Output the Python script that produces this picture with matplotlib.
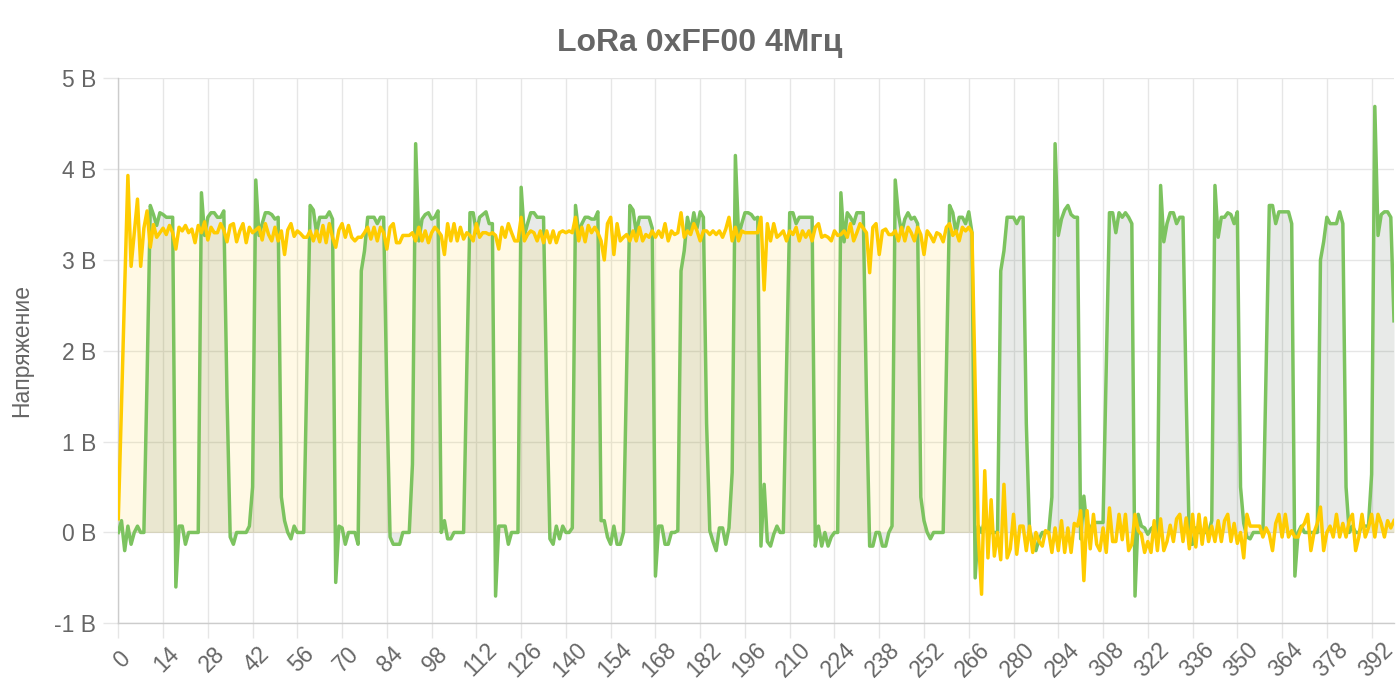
import matplotlib
matplotlib.use("Agg")
import matplotlib.pyplot as plt
from matplotlib.transforms import ScaledTranslation
import numpy as np

plt.rcParams['font.family'] = ['Liberation Sans', 'DejaVu Sans']

title = "LoRa 0xFF00 4Мгц"
y_label = "Напряжение"
y_ticks = [-1, 0, 1, 2, 3, 4, 5]
x_tick_step = 14

# зелёный канал (данные)
green = [
    0.0, 0.13, -0.2, 0.07, -0.13, 0.0, 0.07, 0.0, 0.0, 1.7,
    3.6, 3.5, 3.38, 3.52, 3.5, 3.47, 3.47, 3.47, -0.6, 0.07,
    0.07, -0.13, 0.0, 0.0, 0.0, 0.0, 3.74, 3.27, 3.47, 3.52,
    3.52, 3.47, 3.47, 3.54, 1.5, -0.05, -0.13, 0.0, 0.0, 0.0,
    0.0, 0.07, 0.5, 3.88, 3.27, 3.4, 3.52, 3.52, 3.5, 3.45,
    3.47, 0.39, 0.13, 0.0, -0.07, 0.07, 0.0, 0.0, 0.0, 1.8,
    3.6, 3.55, 3.3, 3.47, 3.47, 3.47, 3.53, 3.45, -0.55, 0.07,
    0.05, -0.13, 0.0, 0.0, 0.0, -0.13, 2.88, 3.1, 3.47, 3.47,
    3.47, 3.4, 3.47, 3.47, 1.5, -0.05, -0.13, -0.13, -0.13, 0.0,
    0.0, 0.0, 0.75, 4.28, 3.21, 3.45, 3.5, 3.52, 3.45, 3.47,
    3.54, 0.0, 0.13, -0.07, -0.07, 0.0, 0.0, 0.0, 0.0, 1.8,
    3.52, 3.52, 3.3, 3.47, 3.5, 3.53, 3.4, 3.4, -0.7, 0.07,
    0.07, 0.07, -0.13, 0.0, 0.0, 0.0, 3.8, 3.27, 3.4, 3.52,
    3.52, 3.47, 3.47, 3.47, 1.5, -0.07, -0.13, 0.07, -0.07, 0.07,
    0.0, 0.0, 0.05, 3.6, 3.3, 3.4, 3.47, 3.47, 3.45, 3.45,
    3.53, 0.13, 0.13, -0.05, -0.13, 0.07, -0.13, -0.13, 0.0, 1.8,
    3.6, 3.55, 3.3, 3.47, 3.47, 3.47, 3.47, 3.35, -0.48, 0.07,
    0.07, -0.13, -0.13, 0.0, 0.0, 0.02, 2.88, 3.1, 3.47, 3.3,
    3.52, 3.35, 3.53, 3.47, 1.2, 0.02, -0.1, -0.2, 0.05, 0.05,
    -0.13, 0.05, 0.66, 4.15, 3.27, 3.4, 3.52, 3.52, 3.5, 3.45,
    3.47, -0.15, 0.53, -0.1, -0.15, -0.02, 0.07, 0.0, 0.0, 1.8,
    3.52, 3.52, 3.4, 3.47, 3.47, 3.47, 3.47, 3.47, -0.15, 0.07,
    -0.15, 0.0, -0.15, -0.05, 0.0, 0.0, 3.74, 3.2, 3.52, 3.47,
    3.4, 3.52, 3.52, 3.52, 1.5, -0.15, -0.15, 0.0, 0.0, -0.15,
    -0.15, 0.0, 0.07, 3.88, 3.5, 3.3, 3.45, 3.52, 3.45, 3.47,
    3.4, 0.39, 0.13, 0.0, -0.07, 0.0, 0.0, 0.0, 0.0, 1.8,
    3.6, 3.52, 3.3, 3.47, 3.47, 3.4, 3.53, 3.3, -0.5, 0.07,
    0.0, 0.13, 0.0, 0.0, 0.0, 0.0, 2.88, 3.1, 3.47, 3.47,
    3.47, 3.4, 3.47, 3.47, 1.2, 0.02, -0.1, -0.2, -0.07, 0.0,
    0.0, 0.0, 0.39, 4.28, 3.27, 3.45, 3.55, 3.6, 3.5, 3.47,
    3.47, -0.07, 0.4, 0.04, 0.04, 0.11, 0.11, 0.11, 0.11, 1.8,
    3.52, 3.52, 3.3, 3.52, 3.47, 3.52, 3.47, 3.4, -0.7, 0.2,
    0.07, 0.05, -0.02, 0.04, 0.07, 0.0, 3.82, 3.2, 3.4, 3.52,
    3.52, 3.4, 3.47, 3.47, 1.5, -0.13, -0.13, 0.05, 0.0, 0.0,
    0.0, 0.0, 0.13, 3.82, 3.25, 3.47, 3.47, 3.52, 3.5, 3.4,
    3.53, 0.5, 0.1, -0.05, -0.07, 0.0, 0.0, 0.0, 0.0, 1.8,
    3.6, 3.6, 3.4, 3.53, 3.53, 3.53, 3.53, 3.4, -0.48, 0.0,
    0.07, 0.0, 0.0, 0.0, 0.0, 0.0, 3.0, 3.2, 3.47, 3.4,
    3.4, 3.4, 3.53, 3.4, 0.5, 0.0, 0.07, 0.0, 0.0, 0.07,
    0.07, 0.07, 0.64, 4.69, 3.27, 3.5, 3.53, 3.53, 3.47, 2.33,
]

# жёлтый канал (тактовый)
yellow = [
    0.15, 1.4, 2.7, 3.93, 2.93, 3.3, 3.67, 2.93, 3.35, 3.54,
    3.14, 3.39, 3.25, 3.3, 3.35, 3.28, 3.38, 3.3, 3.12, 3.36,
    3.32, 3.38, 3.3, 3.34, 3.19, 3.38, 3.3, 3.42, 3.22, 3.36,
    3.3, 3.3, 3.4, 3.33, 3.2, 3.38, 3.4, 3.2, 3.32, 3.4,
    3.19, 3.36, 3.3, 3.33, 3.36, 3.22, 3.4, 3.28, 3.21, 3.36,
    3.21, 3.32, 3.06, 3.33, 3.4, 3.26, 3.32, 3.29, 3.25, 3.25,
    3.32, 3.21, 3.32, 3.2, 3.38, 3.19, 3.4, 3.25, 3.14, 3.33,
    3.4, 3.25, 3.38, 3.25, 3.21, 3.25, 3.25, 3.3, 3.36, 3.23,
    3.36, 3.21, 3.36, 3.3, 3.12, 3.36, 3.4, 3.19, 3.19, 3.27,
    3.27, 3.27, 3.3, 3.21, 3.36, 3.21, 3.32, 3.19, 3.3, 3.36,
    3.32, 3.27, 3.06, 3.4, 3.21, 3.4, 3.21, 3.36, 3.23, 3.3,
    3.27, 3.21, 3.4, 3.25, 3.3, 3.3, 3.28, 3.3, 3.27, 3.12,
    3.36, 3.25, 3.4, 3.3, 3.21, 3.21, 3.47, 3.21, 3.28, 3.32,
    3.3, 3.21, 3.32, 3.19, 3.32, 3.19, 3.32, 3.19, 3.3, 3.32,
    3.3, 3.32, 3.3, 3.47, 3.21, 3.36, 3.2, 3.38, 3.3, 3.36,
    3.3, 3.21, 3.0, 3.4, 3.47, 3.06, 3.4, 3.21, 3.25, 3.28,
    3.21, 3.32, 3.21, 3.36, 3.21, 3.28, 3.25, 3.32, 3.25, 3.32,
    3.25, 3.4, 3.21, 3.32, 3.28, 3.3, 3.52, 3.25, 3.32, 3.28,
    3.4, 3.32, 3.21, 3.32, 3.32, 3.28, 3.32, 3.28, 3.32, 3.25,
    3.34, 3.47, 3.21, 3.36, 3.21, 3.32, 3.3, 3.3, 3.3, 3.3,
    3.3, 3.47, 2.67, 3.4, 3.21, 3.4, 3.25, 3.28, 3.32, 3.21,
    3.32, 3.28, 3.36, 3.21, 3.32, 3.25, 3.32, 3.21, 3.36, 3.4,
    3.25, 3.27, 3.25, 3.21, 3.32, 3.27, 3.28, 3.32, 3.25, 3.4,
    3.21, 3.3, 3.4, 3.35, 3.3, 2.86, 3.36, 3.4, 3.06, 3.32,
    3.34, 3.28, 3.28, 3.32, 3.21, 3.36, 3.21, 3.36, 3.3, 3.21,
    3.36, 3.28, 3.06, 3.32, 3.27, 3.2, 3.3, 3.28, 3.2, 3.36,
    3.4, 3.27, 3.32, 3.21, 3.36, 3.32, 3.36, 3.3, 1.6, -0.05,
    -0.68, 0.68, -0.28, 0.36, -0.26, 0.0, -0.3, 0.53, -0.28, -0.18,
    0.2, -0.24, 0.07, 0.07, -0.2, 0.07, -0.22, 0.0, -0.1, -0.15,
    0.02, 0.0, -0.22, 0.05, -0.2, 0.13, -0.22, 0.05, -0.22, 0.1,
    0.07, 0.24, -0.53, 0.24, -0.18, 0.2, -0.13, -0.2, 0.05, -0.22,
    0.27, -0.1, -0.1, 0.2, -0.08, 0.2, -0.2, -0.13, 0.2, 0.02,
    -0.02, -0.22, -0.1, -0.22, 0.13, -0.2, 0.15, -0.2, -0.1, 0.08,
    -0.1, 0.15, 0.2, -0.1, 0.16, -0.18, 0.2, -0.16, 0.2, -0.13,
    0.16, -0.1, 0.07, -0.1, 0.13, -0.1, 0.13, 0.2, -0.1, 0.1,
    -0.12, 0.0, -0.28, 0.2, 0.07, 0.07, 0.07, 0.07, -0.05, 0.05,
    -0.02, -0.2, 0.1, 0.2, -0.05, 0.2, -0.05, 0.02, -0.05, -0.05,
    0.05, 0.1, 0.2, -0.2, 0.0, 0.1, 0.28, -0.2, 0.0, 0.07,
    -0.05, 0.2, -0.05, 0.1, -0.05, 0.13, 0.2, -0.2, -0.05, 0.2,
    -0.05, 0.05, 0.2, -0.05, 0.2, 0.1, -0.05, 0.13, 0.05, 0.13,
]

# --- цвета ---
green_line = '#7cc35f'
yellow_line = '#ffcc00'
text_color = '#666666'
grid_color = '#e6e6e6'
axis_color = '#cccccc'

x = np.arange(len(green))

fig = plt.figure(figsize=(14, 7), dpi=100)
ax = fig.add_axes([118.3 / 1400, 76.7 / 700, 1275.7 / 1400, 545.0 / 700])

# заливка до нуля
ax.fill_between(x, green, 0, color=(0.13, 0.22, 0.13), alpha=0.1, linewidth=0)
ax.fill_between(x, yellow, 0, color='#ffcd00', alpha=0.1, linewidth=0)

ax.plot(x, green, color=green_line, linewidth=2.5, solid_joinstyle='round', zorder=3)
ax.plot(x, yellow, color=yellow_line, linewidth=2.5, solid_joinstyle='round', zorder=4)

ax.set_xlim(0, len(green) - 1)
ax.set_ylim(y_ticks[0], y_ticks[-1])

xt = np.arange(0, len(green), x_tick_step)
ax.set_xticks(xt)
ax.set_xticklabels([str(v) for v in xt], rotation=45, rotation_mode='anchor',
                   ha='center', va='center')
ax.set_yticks(y_ticks)
ax.set_yticklabels([f"{v} В" for v in y_ticks])

ax.tick_params(axis='both', length=10.8, width=1, color=grid_color,
               labelsize=16.5, labelcolor=text_color)
ax.tick_params(axis='y', pad=5)
ax.tick_params(axis='x', pad=15.5)

# подписи оси X чуть правее засечек, как в исходнике
shift = ScaledTranslation(4 / 100, 0, fig.dpi_scale_trans)
for lbl in ax.get_xticklabels():
    lbl.set_transform(lbl.get_transform() + shift)

ax.grid(True, color=grid_color, linewidth=1)
ax.set_axisbelow(True)

for side in ['top', 'right']:
    ax.spines[side].set_visible(False)
for side in ['left', 'bottom']:
    ax.spines[side].set_color(axis_color)
    ax.spines[side].set_linewidth(1)

ax.set_ylabel(y_label, fontsize=16.5, color=text_color, va='center')
ax.yaxis.set_label_coords((22 - 118.3) / 1275.7, 0.5)

fig.text(0.5, 1 - 43 / 700, title, fontsize=23, fontweight='bold',
         color=text_color, ha='center', va='center')

fig.savefig('out.png', dpi=100)
